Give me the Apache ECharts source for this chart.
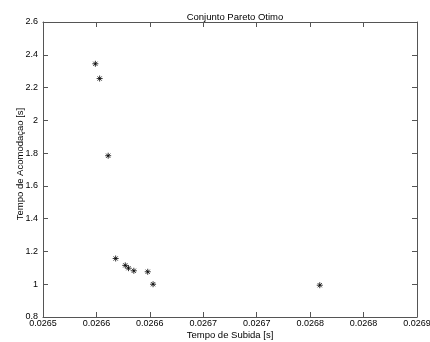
<!DOCTYPE html>
<html>
<head>
<meta charset="utf-8">
<script src="https://cdn.jsdelivr.net/npm/echarts@6/dist/echarts.min.js"></script>
<style>
html, body { margin:0; padding:0; background:#fff; }
#chart { width:430px; height:342px; }
</style>
</head>
<body>
<div id="chart"></div>
<script>
// pontos do conjunto pareto (tempo de subida, tempo de acomodacao)
var subida = [0.026549, 0.026553, 0.026561, 0.026568, 0.026577, 0.02658, 0.026585, 0.026598, 0.026603, 0.026759];
var acomodacao = [2.345, 2.255, 1.784, 1.157, 1.115, 1.098, 1.082, 1.076, 1.0, 0.994];
var xTickLabels = ['0.0265', '0.0266', '0.0266', '0.0267', '0.0267', '0.0268', '0.0268', '0.0269'];
var yTickLabels = ['0.8', '1', '1.2', '1.4', '1.6', '1.8', '2', '2.2', '2.4', '2.6'];

var xMin = 0.0265, xMax = 0.02685, xStep = 0.00005;
var yMin = 0.8, yMax = 2.6, yStep = 0.2;

var pts = [];
for (var i = 0; i < subida.length; i++) {
	pts.push([subida[i], acomodacao[i]]);
}

var fontFam = '"Liberation Sans", Arial, sans-serif';
var fs = 9;
var fsName = 9.5;
var lineCol = '#555';

function boxAxis(show, min, max, step, labels) {
	return {
		type: 'value',
		min: min, max: max, interval: step,
		axisLine: { show: true, lineStyle: { color: lineCol, width: 1 } },
		axisTick: { show: true, inside: true, length: 5, lineStyle: { color: lineCol } },
		splitLine: { show: false },
		axisLabel: {
			show: show,
			color: '#000',
			fontFamily: fontFam,
			fontSize: fs,
			formatter: function (v) {
				var k = Math.round((v - min) / step);
				return labels[k];
			}
		}
	};
}

var xBottom = boxAxis(true, xMin, xMax, xStep, xTickLabels);
xBottom.position = 'bottom';
xBottom.axisLabel.margin = 2;
xBottom.name = 'Tempo de Subida [s]';
xBottom.nameLocation = 'middle';
xBottom.nameGap = 13;
xBottom.nameMoveOverlap = false;
xBottom.nameTextStyle = { color: '#000', fontFamily: fontFam, fontSize: fsName };
var xTop = boxAxis(false, xMin, xMax, xStep, xTickLabels);
xTop.position = 'top';

var yLeft = boxAxis(true, yMin, yMax, yStep, yTickLabels);
yLeft.position = 'left';
yLeft.axisLabel.margin = 5;
yLeft.name = 'Tempo de Acomodaçao [s]';
yLeft.nameLocation = 'middle';
yLeft.nameGap = 18;
yLeft.nameMoveOverlap = false;
yLeft.nameTextStyle = { color: '#000', fontFamily: fontFam, fontSize: fsName, padding: [0, 0, 0, 11] };
var yRight = boxAxis(false, yMin, yMax, yStep, yTickLabels);
yRight.position = 'right';

var myChart = echarts.init(document.getElementById('chart'), null, { renderer: 'canvas' });
var option = {
	backgroundColor: '#fff',
	animation: false,
	title: {
		text: 'Conjunto Pareto Otimo',
		left: 230, top: 7,
		textAlign: 'center',
		textStyle: { color: '#000', fontFamily: fontFam, fontSize: fsName, fontWeight: 'normal' }
	},
	grid: { left: 43, right: 13, top: 22, bottom: 25, containLabel: false, outerBoundsMode: 'none' },
	xAxis: [xBottom, xTop],
	yAxis: [yLeft, yRight],
	series: [{
		type: 'scatter',
		xAxisIndex: 0, yAxisIndex: 0,
		data: pts,
		symbol: 'path://M0,-1L0,1M-1,0L1,0M-0.7,-0.7L0.7,0.7M-0.7,0.7L0.7,-0.7',
		symbolSize: 6,
		itemStyle: { color: 'none', borderColor: '#000', borderWidth: 1 }
	}]
};
myChart.setOption(option, true);
</script>
</body>
</html>
